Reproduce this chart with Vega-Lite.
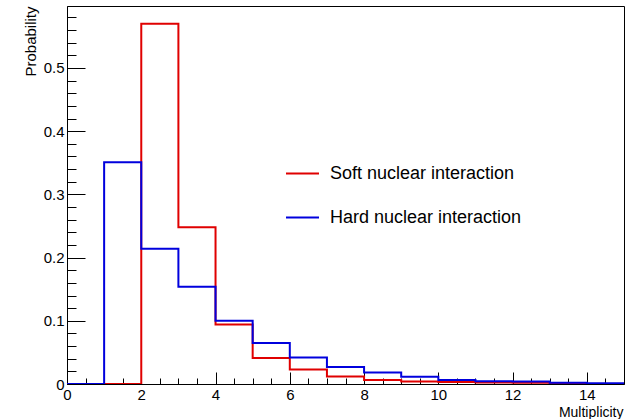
{
  "$schema": "https://vega.github.io/schema/vega-lite/v6.json",
  "width": 557,
  "height": 378,
  "autosize": {"type": "none"},
  "padding": {"left": 67, "top": 6, "right": 11, "bottom": 35},
  "background": "white",
  "config": {
    "font": "Liberation Sans",
    "view": {"stroke": "black", "strokeWidth": 1},
    "axis": {"grid": false, "domainColor": "black", "tickColor": "black", "labelColor": "black", "titleColor": "black", "labelFont": "Liberation Sans", "titleFont": "Liberation Sans", "titleFontWeight": "normal"}
  },
  "data": {"values": [
    {"x": 0, "p": 0, "s": "Soft nuclear interaction"},
    {"x": 1, "p": 0, "s": "Soft nuclear interaction"},
    {"x": 2, "p": 0.570, "s": "Soft nuclear interaction"},
    {"x": 3, "p": 0.248, "s": "Soft nuclear interaction"},
    {"x": 4, "p": 0.094, "s": "Soft nuclear interaction"},
    {"x": 5, "p": 0.041, "s": "Soft nuclear interaction"},
    {"x": 6, "p": 0.023, "s": "Soft nuclear interaction"},
    {"x": 7, "p": 0.012, "s": "Soft nuclear interaction"},
    {"x": 8, "p": 0.0065, "s": "Soft nuclear interaction"},
    {"x": 9, "p": 0.004, "s": "Soft nuclear interaction"},
    {"x": 10, "p": 0.003, "s": "Soft nuclear interaction"},
    {"x": 11, "p": 0.0025, "s": "Soft nuclear interaction"},
    {"x": 12, "p": 0.002, "s": "Soft nuclear interaction"},
    {"x": 13, "p": 0, "s": "Soft nuclear interaction"},
    {"x": 14, "p": 0, "s": "Soft nuclear interaction"},
    {"x": 15, "p": 0, "s": "Soft nuclear interaction"},
    {"x": 0, "p": 0, "s": "Hard nuclear interaction"},
    {"x": 1, "p": 0.351, "s": "Hard nuclear interaction"},
    {"x": 2, "p": 0.214, "s": "Hard nuclear interaction"},
    {"x": 3, "p": 0.154, "s": "Hard nuclear interaction"},
    {"x": 4, "p": 0.100, "s": "Hard nuclear interaction"},
    {"x": 5, "p": 0.065, "s": "Hard nuclear interaction"},
    {"x": 6, "p": 0.042, "s": "Hard nuclear interaction"},
    {"x": 7, "p": 0.027, "s": "Hard nuclear interaction"},
    {"x": 8, "p": 0.018, "s": "Hard nuclear interaction"},
    {"x": 9, "p": 0.0115, "s": "Hard nuclear interaction"},
    {"x": 10, "p": 0.0065, "s": "Hard nuclear interaction"},
    {"x": 11, "p": 0.0045, "s": "Hard nuclear interaction"},
    {"x": 12, "p": 0.004, "s": "Hard nuclear interaction"},
    {"x": 13, "p": 0.002, "s": "Hard nuclear interaction"},
    {"x": 14, "p": 0.001, "s": "Hard nuclear interaction"},
    {"x": 15, "p": 0.001, "s": "Hard nuclear interaction"}
  ]},
  "resolve": {"axis": {"x": "independent", "y": "independent"}},
  "layer": [
    {
      "mark": {"type": "line", "opacity": 0},
      "encoding": {
        "x": {
          "field": "x", "type": "quantitative",
          "scale": {"domain": [0, 15], "nice": false, "zero": false},
          "axis": {
            "orient": "bottom", "title": null, "labels": false, "domain": false,
            "values": [0.5, 1, 1.5, 2.5, 3, 3.5, 4.5, 5, 5.5, 6.5, 7, 7.5, 8.5, 9, 9.5, 10.5, 11, 11.5, 12.5, 13, 13.5, 14.5],
            "tickSize": -6
          }
        },
        "y": {
          "field": "p", "type": "quantitative",
          "scale": {"domain": [0, 0.598], "nice": false},
          "axis": {
            "orient": "left", "title": null, "labels": false, "domain": false,
            "values": [0.02, 0.04, 0.06, 0.08, 0.12, 0.14, 0.16, 0.18, 0.22, 0.24, 0.26, 0.28, 0.32, 0.34, 0.36, 0.38, 0.42, 0.44, 0.46, 0.48, 0.52, 0.54, 0.56, 0.58],
            "tickSize": -9
          }
        }
      }
    },
    {
      "mark": {"type": "line", "interpolate": "step-after", "strokeWidth": 2, "clip": true},
      "encoding": {
        "x": {
          "field": "x", "type": "quantitative",
          "axis": {
            "orient": "bottom",
            "title": "Multiplicity", "titleFontSize": 14, "titleAlign": "right", "titleAnchor": null,
            "titleX": 556, "titleY": 28, "titleBaseline": "middle",
            "values": [0, 2, 4, 6, 8, 10, 12, 14],
            "tickSize": -12, "labelPadding": 15, "labelFontSize": 15, "labelFlush": false,
            "domainWidth": 1
          }
        },
        "y": {
          "field": "p", "type": "quantitative",
          "axis": {
            "orient": "left",
            "title": "Probability", "titleFontSize": 15, "titleAngle": -90, "titleAlign": "right",
            "titleAnchor": null, "titleX": -37, "titleY": 0, "titleBaseline": "middle",
            "values": [0, 0.1, 0.2, 0.3, 0.4, 0.5],
            "labelExpr": "datum.value == 0 ? '0' : format(datum.value, '.1f')",
            "tickSize": -18, "labelPadding": 21, "labelFontSize": 15, "labelFlush": false
          }
        },
        "color": {
          "field": "s", "type": "nominal",
          "scale": {"domain": ["Soft nuclear interaction", "Hard nuclear interaction"], "range": ["#e00000", "#0000dd"]},
          "legend": {
            "title": null, "orient": "none", "legendX": 218, "legendY": 150,
            "symbolType": "stroke", "symbolSize": 1089, "symbolStrokeWidth": 2,
            "labelFontSize": 18, "labelOffset": 10, "rowPadding": 17, "padding": 0,
            "labelColor": "black", "labelFont": "Liberation Sans", "labelLimit": 400
          }
        }
      }
    }
  ]
}
